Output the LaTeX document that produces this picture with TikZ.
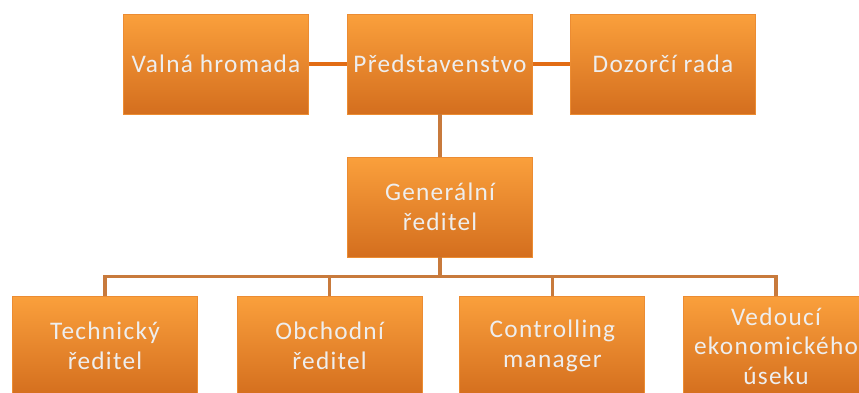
\documentclass[tikz,border=0pt]{standalone}
\usepackage{fontspec}
\setmainfont{Carlito}[LetterSpace=5]
\usepackage{tikz}
\usetikzlibrary{calc,shadings}
\usepackage{xcolor}
\definecolor{boxtop}{RGB}{250,160,60}
\definecolor{boxbot}{RGB}{212,110,30}
\definecolor{boxedge}{RGB}{236,140,50}
\definecolor{linkred}{RGB}{226,108,20}
\definecolor{linkbrown}{RGB}{200,122,60}
\definecolor{labelgrey}{RGB}{238,238,238}

\begin{document}
\begin{tikzpicture}[
    orgbox/.style={rectangle, top color=boxtop, bottom color=boxbot,
      draw=boxedge, line width=0.6pt, minimum width=4.625cm,
      minimum height=2.5cm, align=center, text=labelgrey,
      font=\fontsize{18}{21}\selectfont},
    toplink/.style={linkred, line width=2.8pt},
    downlink/.style={linkbrown, line width=2.4pt}]

    % Canvas
    \useasboundingbox (0,0) rectangle (21.475,9.8);

    % Top row
    \node[orgbox] (valna) at (5.4,8.2)    {Valná hromada};
    \node[orgbox] (pred)  at (11.0,8.2)   {Představenstvo};
    \node[orgbox] (dozor) at (16.575,8.2) {Dozorčí rada};

    % General director
    \node[orgbox] (gen) at (11.0,4.625) {Generální\\ředitel};

    % Bottom row
    \node[orgbox] (tech)  at (2.625,1.15) {Technický\\ředitel};
    \node[orgbox] (obch)  at (8.24,1.15)  {Obchodní\\ředitel};
    \node[orgbox] (contr) at (13.81,1.15) {Controlling\\manager};
    \node[orgbox] (ved)   at (19.4,1.15)  {Vedoucí\\ekonomického\\úseku};

    % Connectors (top row)
    \draw[toplink] (valna.east) -- (pred.west);
    \draw[toplink] (pred.east) -- (dozor.west);
    \draw[downlink] (pred.south) -- (gen.north);

    % Bus to bottom row
    \coordinate (bus) at ($(gen.south)+(0,-0.475)$);
    \draw[downlink] (gen.south) -- (bus);
    \foreach \n in {tech, obch, contr, ved}{
      \draw[downlink] (bus) -| (\n.north);
    }

  \end{tikzpicture}
\end{document}
